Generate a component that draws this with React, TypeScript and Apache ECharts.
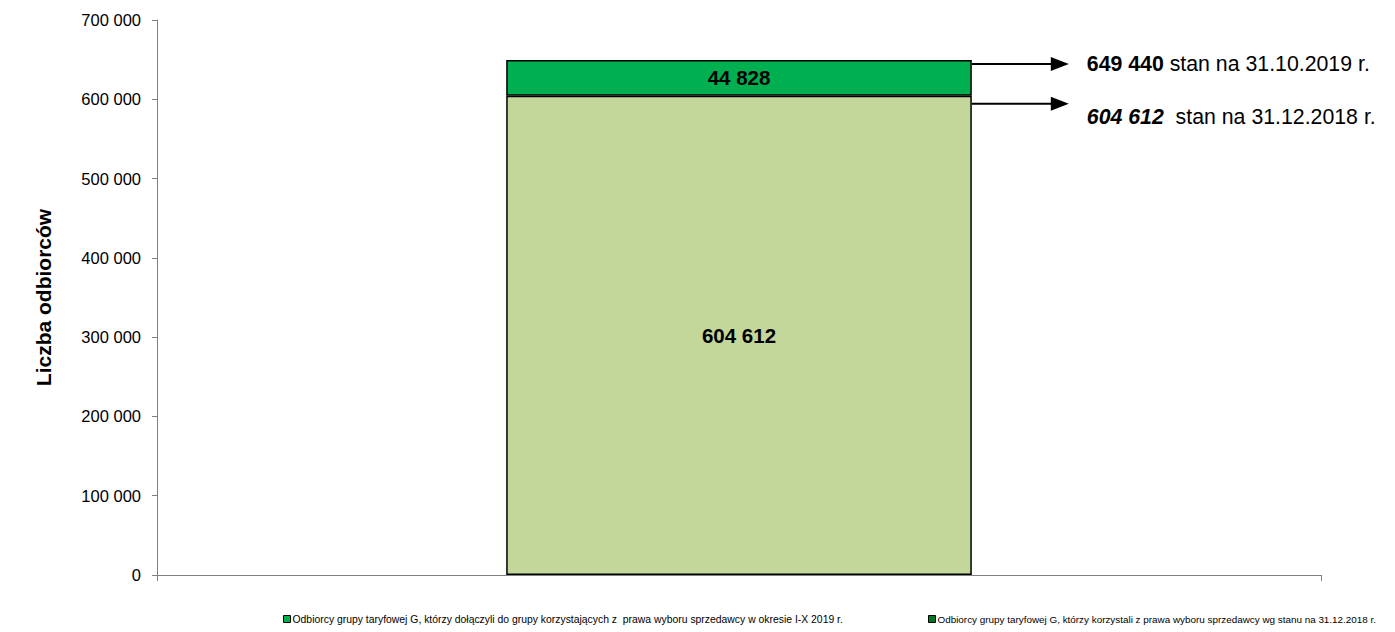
import React, { useEffect, useRef } from "react";
import * as echarts from "echarts";

const categories = [""];
const seriesNames = [
  "Odbiorcy grupy taryfowej G, którzy korzystali z prawa wyboru sprzedawcy wg stanu na 31.12.2018 r.",
  "Odbiorcy grupy taryfowej G, którzy dołączyli do grupy korzystających z  prawa wyboru sprzedawcy w okresie I-X 2019 r.",
];
const baseValues = [604612];
const addedValues = [44828];
const totalValues = [649440];
const yTicks = { min: 0, max: 700000, interval: 100000 };
const annotations = [
  { value: totalValues[0], main: "649 440", rest: " stan na 31.10.2019 r.", italic: false },
  { value: baseValues[0], main: "604 612", rest: "  stan na 31.12.2018 r.", italic: true },
];

const FONT = "'Liberation Sans', Arial, sans-serif";

function fmt(v: number): string {
  return String(Math.round(v)).replace(/\B(?=(\d{3})+(?!\d))/g, " ");
}

const W = 1395;
const H = 632;
const GRID = { left: 157, right: 74, top: 20, bottom: 57 };

export default function App() {
  const ref = useRef<HTMLDivElement>(null);
  useEffect(() => {
    document.body.style.margin = "0";
    if (!ref.current) return;
    const chart = echarts.init(ref.current, undefined, { renderer: "svg" });
    const option: any = {
      animation: false,
      textStyle: { fontFamily: FONT },
      grid: GRID,
      legend: [
        {
          left: 283,
          top: 614,
          padding: 0,
          icon: "rect",
          itemWidth: 7,
          itemHeight: 7,
          textStyle: { fontSize: 10.4, color: "#000", fontFamily: FONT, padding: [0, 0, 0, -3] },
          data: [
            { name: seriesNames[1], itemStyle: { color: "#00B050", borderColor: "#000", borderWidth: 1 } },
          ],
        },
        {
          left: 928,
          top: 614,
          padding: 0,
          icon: "rect",
          itemWidth: 7,
          itemHeight: 7,
          textStyle: { fontSize: 9.9, color: "#000", fontFamily: FONT, padding: [0, 0, 0, -3] },
          data: [
            { name: seriesNames[0], itemStyle: { color: "#007A1E", borderColor: "#000", borderWidth: 1 } },
          ],
        },
      ],
      xAxis: {
        type: "category",
        data: categories,
        boundaryGap: true,
        axisLine: { show: true, lineStyle: { color: "#808080", width: 1 } },
        axisTick: { show: true, length: 6, lineStyle: { color: "#808080" } },
        axisLabel: { show: false },
        splitLine: { show: false },
      },
      yAxis: {
        type: "value",
        min: yTicks.min,
        max: yTicks.max,
        interval: yTicks.interval,
        name: "Liczba odbiorców",
        nameLocation: "middle",
        nameRotate: 90,
        nameGap: 103,
        nameTextStyle: { fontSize: 21, fontWeight: "bold", color: "#000", fontFamily: FONT },
        axisLine: { show: true, lineStyle: { color: "#808080", width: 1 } },
        axisTick: { show: true, length: 5, lineStyle: { color: "#808080" } },
        axisLabel: {
          formatter: (v: number) => fmt(v),
          fontSize: 16.5,
          color: "#000",
          margin: 16,
          fontFamily: FONT,
        },
        splitLine: { show: false },
      },
      series: [
        {
          name: seriesNames[0],
          type: "bar",
          stack: "total",
          data: baseValues,
          barWidth: "40%",
          itemStyle: { color: "#C4D79B", borderColor: "#000", borderWidth: 1.5 },
          label: {
            show: true,
            position: "inside",
            formatter: (p: any) => fmt(p.value),
            fontSize: 20.5,
            fontWeight: "bold",
            color: "#000",
            fontFamily: FONT,
          },
        },
        {
          name: seriesNames[1],
          type: "bar",
          stack: "total",
          data: addedValues,
          barWidth: "40%",
          itemStyle: { color: "#00B050", borderColor: "#000", borderWidth: 1.5 },
          label: {
            show: true,
            position: "inside",
            formatter: (p: any) => fmt(p.value),
            fontSize: 20.5,
            fontWeight: "bold",
            color: "#000",
            fontFamily: FONT,
          },
        },
      ],
    };
    chart.setOption(option);

    const gridW = W - GRID.left - GRID.right;
    const barHalf = (gridW / categories.length) * 0.4 / 2;
    const center = chart.convertToPixel({ seriesIndex: 0 }, [0, 0]) as number[];
    const x0 = center[0] + barHalf;
    const lineEnd = x0 + 79;
    const headEnd = lineEnd + 18;
    const textX = headEnd + 18;
    const offsets = [4, 8];
    const textOffsets = [4, 21];
    const graphics: any[] = [];
    annotations.forEach((a, i) => {
      const py = (chart.convertToPixel({ yAxisIndex: 0 }, a.value) as number) + offsets[i];
      graphics.push({
        type: "line",
        shape: { x1: x0, y1: py, x2: lineEnd + 2, y2: py },
        style: { stroke: "#000", lineWidth: 2 },
      });
      graphics.push({
        type: "polygon",
        shape: { points: [[lineEnd, py - 7], [headEnd, py], [lineEnd, py + 7]] },
        style: { fill: "#000" },
      });
      const ty = (chart.convertToPixel({ yAxisIndex: 0 }, a.value) as number) + textOffsets[i];
      graphics.push({
        type: "text",
        x: textX,
        y: ty,
        style: {
          text: `{m|${a.main}}{r|${a.rest}}`,
          verticalAlign: "middle",
          rich: {
            m: {
              fontSize: 21.3,
              fontWeight: "bold",
              fontStyle: a.italic ? "italic" : "normal",
              fill: "#000",
              fontFamily: FONT,
            },
            r: { fontSize: 21.3, fill: "#000", fontFamily: FONT },
          },
        },
      });
    });
    chart.setOption({ graphic: graphics });

    return () => chart.dispose();
  }, []);
  return <div ref={ref} style={{ width: W, height: H }} />;
}
